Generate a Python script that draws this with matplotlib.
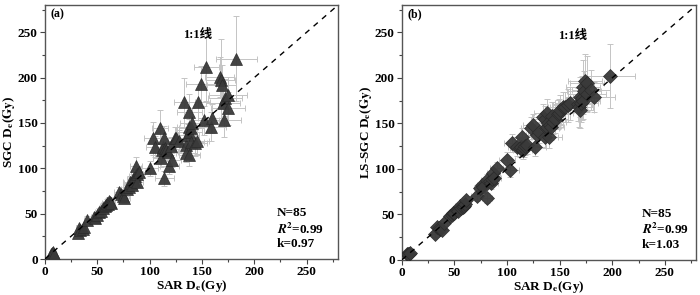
import numpy as np
import matplotlib
matplotlib.use("Agg")
import matplotlib.pyplot as plt
from matplotlib.ticker import MultipleLocator

plt.rcParams['font.family'] = ['Liberation Serif', 'Noto Sans CJK SC']
plt.rcParams['font.weight'] = 'bold'
plt.rcParams['mathtext.fontset'] = 'stix'

# panel (a): SAR vs SGC
sar_a = [7, 6, 8, 9, 32, 33, 34, 36, 37, 40, 47, 48, 50, 52, 54, 56, 57, 58, 59, 60,
         61, 62, 63, 71, 73, 75, 76, 78, 80, 81, 82, 83, 84, 85, 86, 87, 88, 88, 90, 100,
         103, 105, 110, 111, 112, 113, 114, 114, 115, 116, 118, 119, 120, 121, 124, 125, 128, 133, 135, 135,
         137, 138, 138, 138, 138, 140, 140, 141, 143, 145, 146, 149, 152, 154, 159, 160, 167, 168, 169, 170,
         171, 172, 175, 175, 183]
sgc_a = [7, 5, 8, 6, 29, 34, 32, 33, 35, 43, 46, 45, 49, 52, 53, 56, 58, 60, 62, 61,
         64, 63, 62, 74, 72, 69, 67, 77, 79, 85, 84, 82, 88, 86, 91, 102, 94, 85, 96, 100,
         133, 124, 144, 111, 120, 124, 133, 89, 122, 120, 118, 102, 125, 109, 133, 133, 130, 173, 126, 117,
         137, 115, 146, 140, 162, 129, 144, 150, 128, 130, 173, 193, 153, 212, 146, 155, 201, 197, 192, 172,
         153, 178, 181, 166, 221]
sar_a_err = [2, 2, 2, 2, 3, 3, 3, 3, 3, 3, 3, 3, 3, 4, 4, 4, 4, 4, 4, 4,
             4, 4, 4, 5, 5, 5, 5, 5, 5, 6, 6, 6, 6, 6, 6, 6, 6, 6, 6, 8,
             8, 8, 8, 8, 8, 9, 9, 9, 9, 9, 9, 9, 9, 9, 10, 10, 10, 10, 10, 10,
             10, 10, 12, 12, 12, 12, 12, 12, 12, 12, 12, 14, 14, 12, 14, 14, 14, 14, 14, 16,
             16, 16, 18, 16, 20]
sgc_a_err = [2, 2, 2, 2, 3, 3, 3, 3, 4, 4, 3, 3, 3, 4, 4, 4, 4, 4, 4, 4,
             4, 4, 4, 5, 5, 5, 5, 5, 6, 6, 6, 6, 6, 6, 8, 10, 7, 6, 7, 8,
             18, 12, 20, 10, 10, 12, 14, 8, 10, 10, 10, 8, 10, 8, 12, 12, 12, 27, 12, 10,
             12, 12, 18, 14, 20, 14, 14, 16, 14, 14, 20, 20, 16, 38, 16, 16, 22, 45, 22, 20,
             18, 20, 20, 18, 47]

# panel (b): SAR vs LS-SGC
sar_b = [5, 7, 6, 8, 32, 33, 35, 36, 38, 40, 46, 48, 49, 50, 52, 53, 55, 56, 58, 59,
         60, 61, 71, 74, 76, 77, 81, 81, 84, 85, 86, 87, 88, 90, 100, 103, 105, 109, 112, 113,
         114, 115, 116, 117, 119, 123, 125, 127, 128, 130, 134, 136, 136, 137, 138, 138, 139, 140, 141, 142,
         143, 144, 146, 148, 149, 150, 153, 155, 158, 160, 167, 168, 169, 169, 170, 171, 172, 172, 173, 174,
         176, 176, 180, 183, 198]
lssgc_b = [7, 7, 6, 8, 28, 36, 35, 34, 33, 40, 48, 49, 51, 52, 55, 54, 59, 57, 58, 59,
           61, 66, 70, 79, 82, 80, 88, 68, 87, 84, 89, 95, 90, 101, 110, 99, 128, 124, 123, 124,
           135, 121, 123, 125, 126, 145, 148, 124, 137, 140, 157, 135, 155, 145, 146, 161, 150, 135, 148, 146,
           158, 152, 155, 160, 161, 165, 168, 168, 170, 172, 171, 168, 165, 179, 172, 178, 190, 175, 185, 196,
           194, 182, 187, 179, 202]
sar_b_err = [2, 2, 2, 2, 3, 3, 3, 3, 3, 3, 3, 3, 3, 3, 4, 4, 4, 4, 4, 4,
             4, 4, 5, 5, 5, 5, 6, 5, 6, 6, 6, 6, 6, 6, 8, 8, 8, 8, 9, 9,
             9, 9, 9, 9, 9, 10, 10, 10, 10, 10, 10, 12, 12, 12, 12, 12, 12, 12, 12, 12,
             12, 12, 12, 12, 14, 14, 14, 14, 14, 14, 14, 14, 14, 14, 16, 16, 16, 16, 16, 16,
             16, 18, 18, 20, 24]
lssgc_b_err = [2, 2, 2, 2, 3, 3, 3, 3, 3, 3, 3, 3, 3, 3, 4, 4, 4, 4, 4, 4,
               4, 4, 5, 5, 5, 5, 6, 5, 6, 6, 6, 6, 6, 7, 8, 8, 10, 10, 10, 10,
               10, 10, 10, 10, 10, 12, 12, 10, 12, 12, 14, 12, 14, 14, 14, 16, 14, 12, 14, 14,
               16, 14, 16, 16, 16, 16, 16, 16, 18, 18, 18, 22, 20, 22, 20, 24, 30, 20, 22, 30,
               30, 20, 22, 16, 35]

panels = [
    (sar_a, sgc_a, sar_a_err, sgc_a_err, '^', 8, r'SGC D$_\mathbf{e}$($\mathit{\mathbf{Gy}}$)', '(a)', 'k=0.97'),
    (sar_b, lssgc_b, sar_b_err, lssgc_b_err, 'D', 6.8, r'LS-SGC D$_\mathbf{e}$($\mathit{\mathbf{Gy}}$)', '(b)', 'k=1.03'),
]

fig = plt.figure(figsize=(7, 2.95), dpi=100)
axes_pos = [[0.064, 0.122, 0.419, 0.861], [0.574, 0.119, 0.421, 0.864]]

for pos, (x, y, xe, ye, mk, ms, ylab, tag, ktxt) in zip(axes_pos, panels):
    ax = fig.add_axes(pos)
    ax.errorbar(x, y, xerr=xe, yerr=ye, fmt='none', ecolor='#c4c4c4',
                elinewidth=0.7, capsize=2, capthick=0.7, zorder=2)
    ax.plot(x, y, linestyle='none', marker=mk, markersize=ms,
            markerfacecolor='#3a3a3a', markeredgecolor='#2a2a2a',
            markeredgewidth=0.5, alpha=0.95, zorder=3)
    ax.plot([0, 280], [0, 280], color='black', linestyle=(0, (4, 4)), lw=1.0, zorder=4)

    ax.set_xlim(0, 280)
    ax.set_ylim(0, 280)
    ax.xaxis.set_major_locator(MultipleLocator(50))
    ax.yaxis.set_major_locator(MultipleLocator(50))
    ax.xaxis.set_minor_locator(MultipleLocator(25))
    ax.yaxis.set_minor_locator(MultipleLocator(25))
    ax.tick_params(which='both', direction='out', top=False, right=False,
                   labelsize=9.5, width=0.8, color='#444444', pad=1.5)
    ax.tick_params(which='major', length=3.5)
    ax.tick_params(which='minor', length=2)
    for lbl in ax.get_xticklabels() + ax.get_yticklabels():
        lbl.set_fontweight('bold')
    for sp in ax.spines.values():
        sp.set_color('#555555')
        sp.set_linewidth(1.0)

    ax.set_xlabel(r'SAR D$_\mathbf{e}$(Gy)', fontsize=9.5, fontweight='bold', labelpad=0)
    ax.set_ylabel(ylab, fontsize=9.5, fontweight='bold', labelpad=1)

    ax.text(5, 270, tag, fontsize=8.5, fontweight='bold', ha='left', va='center')
    ax.text(0.52 if tag == '(a)' else 0.58, 0.88, '1:1线', transform=ax.transAxes,
            fontsize=9, fontweight='bold', ha='center', va='center')
    tx = 0.79 if tag == '(a)' else 0.815
    ax.text(tx, 0.180, 'N=85', transform=ax.transAxes, fontsize=9.5, fontweight='bold', va='center')
    ax.text(tx, 0.118, r'$\mathbf{\mathit{R}}^\mathbf{2}$=0.99', transform=ax.transAxes,
            fontsize=9.5, fontweight='bold', va='center')
    ax.text(tx, 0.058, ktxt, transform=ax.transAxes, fontsize=9.5, fontweight='bold', va='center')

fig.savefig('out.png', dpi=100)
